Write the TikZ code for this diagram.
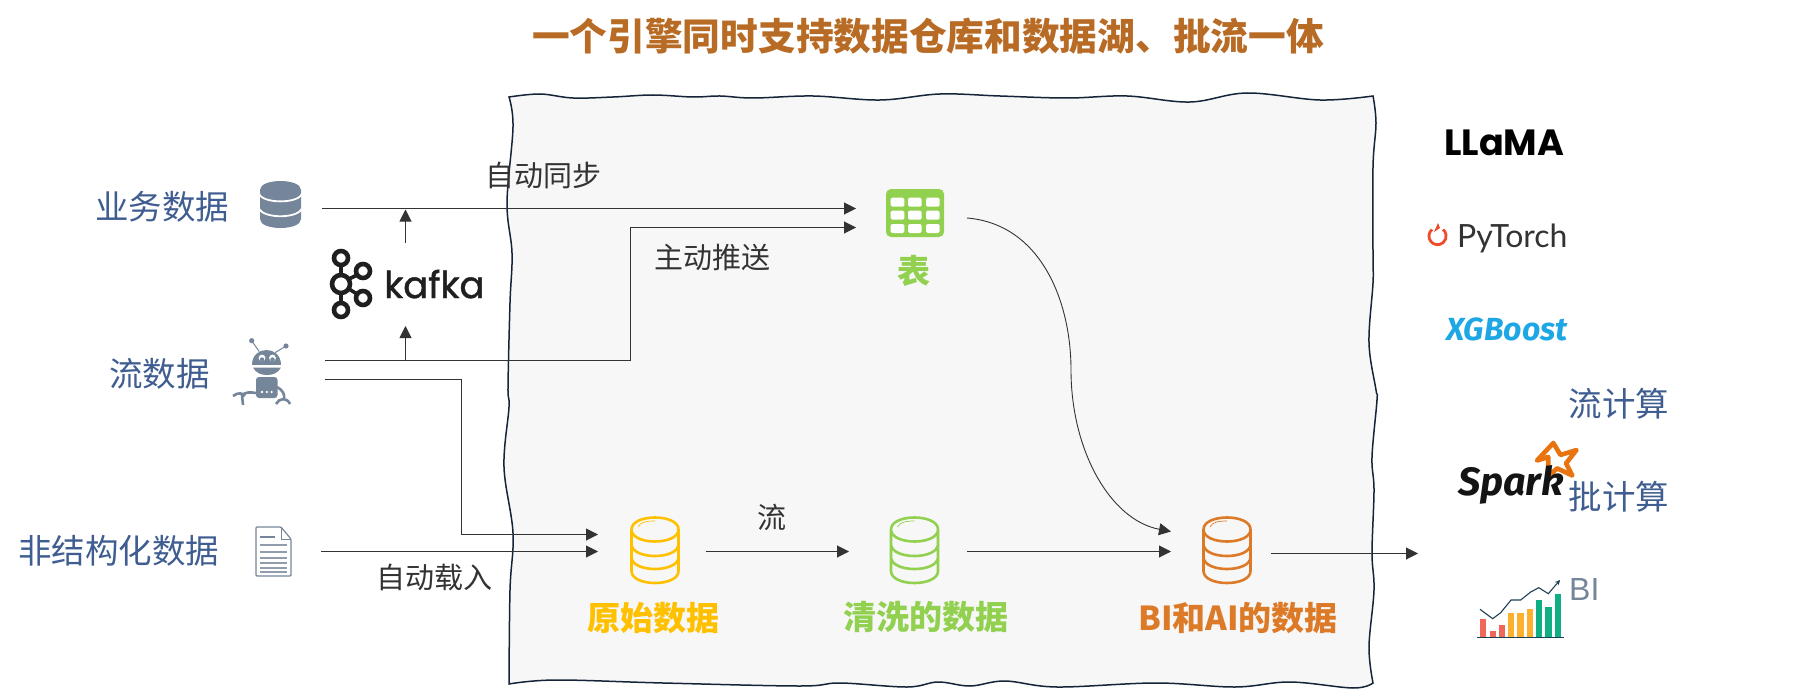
\documentclass[tikz,border=0pt]{standalone}
\usepackage{fontspec}
\setmainfont{Noto Sans CJK SC}
\newfontfamily\logofont{Poppins}
\newfontfamily\kafkafont[FakeBold=1.3]{Poppins}
\newfontfamily\fira{Fira Sans}
\newfontfamily\lato{Lato}
\newfontfamily\arialish{Liberation Sans}
\usetikzlibrary{arrows.meta,positioning}
\definecolor{labelblue}{HTML}{3F5D90}
\definecolor{icongrey}{HTML}{75859A}
\definecolor{titlebrown}{HTML}{B86B25}
\definecolor{rawyellow}{HTML}{FFC000}
\definecolor{cleangreen}{HTML}{92D050}
\definecolor{bihue}{HTML}{DD7A27}
\definecolor{linkdark}{HTML}{333333}
\definecolor{sketchnavy}{HTML}{16243A}
\definecolor{lakefill}{HTML}{F7F7F7}
\definecolor{torchred}{HTML}{EE4C2C}
\definecolor{xgblue}{HTML}{1EA7E5}
\definecolor{sparkorange}{HTML}{E8730F}
\definecolor{chartink}{HTML}{1F4054}
\tikzset{
    %Define standard arrow tip
    >={Triangle[length=12pt,width=12pt]},
    %Define style for invisible anchor boxes
    port/.style={
           rectangle,
           inner sep=0pt,
           outer sep=0pt},
    %Define styles for texts
    bluelabel/.style={
           inner sep=0pt,
           text=labelblue,
           font=\fontsize{33.5}{36}\selectfont},
    linklabel/.style={
           inner sep=0pt,
           text=linkdark,
           font=\fontsize{29}{32}\selectfont},
    stagelabel/.style={
           inner sep=0pt,
           font=\fontsize{33}{36}\selectfont\bfseries},
    %Define arrow style
    link/.style={
           ->,
           draw=linkdark,
           line width=1pt},
    %Cylinder drawn as outline
    dbstack/.pic={
           \draw[line width=2.6pt,pic actions]
             (-23.5,-20.5) .. controls (-23.5,-36.5) and (23.5,-36.5) .. (23.5,-20.5)
             .. controls (23.5,-4.5) and (-23.5,-4.5) .. (-23.5,-20.5)
             -- (-23.5,21) .. controls (-23.5,37) and (23.5,37) .. (23.5,21) -- (23.5,-20.5)
             (-23.5,-6) .. controls (-23.5,10) and (23.5,10) .. (23.5,-6)
             (-23.5,7) .. controls (-23.5,23) and (23.5,23) .. (23.5,7);
           \draw[line width=.7pt,pic actions] (-17,-23) .. controls (-15,-28) and (-8,-29) .. (0,-29);
           }
}
\begin{document}
\begin{tikzpicture}[x=1pt,y=-1pt]
\useasboundingbox (0,0) rectangle (1812,690);
%Sketchy box
\draw[fill=lakefill,draw=sketchnavy,line width=1.5pt]
  plot[smooth,tension=.6] coordinates {(509,97)(540,94)(573,98)(613,97)(653,95)(693,97)(720,96)(753,98)(813,96)(880,100)(940,94)(1000,96)(1067,98)(1127,96)(1190,102)(1247,93)(1320,100)(1373,96)}
  -- plot[smooth,tension=.6] coordinates {(1373,96)(1376,123)(1373,167)(1373,257)(1373,283)(1369,343)(1376,390)(1377,400)(1372,457)(1374,490)(1372,553)(1374,590)(1369,647)(1373,683)}
  -- plot[smooth,tension=.6] coordinates {(1373,683)(1353,688)(1290,682)(1235,687)(1156,683)(1057,687)(1005,681)(970,686)(938,682)(907,687)(840,683)(800,686)(663,683)(556,680)(509,684)}
  -- plot[smooth,tension=.6] coordinates {(509,684)(510,590)(513,533)(504,467)(509,407)(508,387)(510,303)(512,253)(507,203)(513,127)(509,97)}
  -- cycle;

%Title
\node[inner sep=0pt,text=titlebrown,font=\fontsize{37.7}{42}\selectfont\bfseries] (title) at (928,36) {一个引擎同时支持数据仓库和数据湖、批流一体};

%Sources
\node[bluelabel] (bizlabel) at (162,207) {业务数据};
\node[bluelabel] (streamlabel) at (159.5,373.5) {流数据};
\node[bluelabel] (filelabel) at (118.5,551) {非结构化数据};

%Anchor boxes for the connectors
\node[port,minimum width=84pt,minimum height=0pt] (biz) at (280,208.5) {};
\node[port,minimum width=118pt,minimum height=19pt] (robot) at (266,370) {};
\node[port,minimum width=70pt,minimum height=0pt] (file) at (286,551.5) {};
\node[port,minimum width=160pt,minimum height=83pt] (kafka) at (405.5,284.5) {};
\node[port,minimum width=111pt,minimum height=19pt] (tbl) at (911.5,218) {};
\node[port,minimum width=107.6pt,minimum height=17pt] (raw) at (651.8,543) {};
\node[port,minimum width=118pt,minimum height=0pt] (clean) at (908,551.5) {};
\node[port,minimum width=100pt,minimum height=22pt] (serve) at (1221,542.5) {};
\coordinate (engines) at (1418,553.5);

%Connectors
\draw[link] (biz.east) -- (biz.east -| tbl.west);
\draw[link] (robot.north east) -| (630.5,227.5) -- (tbl.south west);
\draw[link] (robot.south east) -| (461.5,534.5) -- (raw.north west);
\draw[link] (file.east) -- (file.east -| raw.west);
\draw[link] (kafka.south |- robot.north) -- (kafka.south);
\draw[link] (kafka.north) -- ([yshift=-1pt]kafka.north |- biz.east);
\draw[link] (raw.south east) -- (raw.south east -| clean.west);
\draw[link] (clean.east) -- (clean.east -| serve.west);
\draw[link,line width=.9pt] (tbl.east) .. controls (1040,224) and (1071,300) .. (1071,370)
  .. controls (1071,450) and (1110,520) .. (serve.north west);
\draw[link] (serve.south east) -- (engines);

%Connector labels
\node[linklabel] (synclabel) at (543.5,175) {自动同步};
\node[linklabel] (pushlabel) at (712,257) {主动推送};
\node[linklabel] (loadlabel) at (434,577) {自动载入};
\node[linklabel] (flowlabel) at (772,517) {流};

%Stage labels
\node[stagelabel,text=cleangreen] (tbllabel) at (914,271) {表};
\node[stagelabel,text=rawyellow] (rawlabel) at (653,618) {原始数据};
\node[stagelabel,text=cleangreen] (cleanlabel) at (926,617) {清洗的数据};
\node[stagelabel,text=bihue] (bilabel) at (1238,618) {BI和AI的数据};

%Cylinders
\pic[draw=rawyellow] at (655,550) {dbstack};
\pic[draw=cleangreen] at (914.5,550) {dbstack};
\pic[draw=bihue] at (1227,550) {dbstack};

%Database icon
\fill[icongrey] (260,190) .. controls (260,178) and (301,178) .. (301,190) -- (301,219)
  .. controls (301,231) and (260,231) .. (260,219) -- cycle;
\draw[white,line width=1.8pt] (259,193.5) .. controls (262,204) and (299,204) .. (302,193.5)
  (259,208) .. controls (262,219) and (299,219) .. (302,208);

%Robot icon
\begin{scope}[icongrey]
\draw[line width=1pt] (251.7,340.7) -- (259.3,351.7) (286,346) -- (275,352.7);
\fill (251.7,340.7) circle (2.6pt) (286,346) circle (2.6pt);
\fill (252,365) .. controls (252,345) and (281,345) .. (281,365) -- cycle;
\fill (253,367.5) -- (281,367.5) .. controls (278,373) and (273,375) .. (267,375) .. controls (261,375) and (256,373) .. (253,367.5) -- cycle;
\fill[white] (262,358) circle (3.4pt) (272.5,358) circle (3.4pt);
\fill (262,359.5) circle (2.2pt) (272.5,359.5) circle (2.2pt);
\fill[rounded corners=3pt] (256,377) rectangle (277.5,398);
\fill[white] (262,392) circle (1.3pt) (266.8,392) circle (1.3pt) (271.6,392) circle (1.3pt);
\draw[line width=2.6pt] (256,393) .. controls (250,392) and (246,392) .. (242,395)
  (233,396) .. controls (238,392) and (243,393) .. (245,396) (242,395) -- (243,405)
  (277,387) .. controls (283,390) and (285,395) .. (284,399)
  (276,404) .. controls (279,398) and (287,397) .. (290,404);
\end{scope}

%Document icon
\draw[fill=white,draw=icongrey,line width=1.2pt,rounded corners=1pt] (256,527) -- (281,527) -- (291,539) -- (291,576) -- (256,576) -- cycle;
\draw[icongrey,line width=1pt] (281,527) -- (281,539) -- (291,539);
\draw[icongrey,line width=1.3pt] (260,537) -- (275,537);
\foreach \ly in {545,552,558,563,568,572}
  \draw[icongrey!80,line width=1.2pt] (260,\ly) -- (287,\ly);

%Table icon
\fill[cleangreen,rounded corners=5pt] (886,189) rectangle (944,237);
\foreach \cx in {890.7,908,926}
  \foreach \cy in {197.7,210.7,224}
    \fill[white,rounded corners=1.5pt] (\cx,\cy) rectangle ++(13.6,9);

%Kafka logo
\begin{scope}[draw=black!88]
\draw[line width=4.6pt] (341,258) circle (7pt) (341,310) circle (7pt) (363,271) circle (7pt) (363,298) circle (7pt) (341,284) circle (9pt);
\draw[line width=3.6pt] (341,265) -- (341,275) (341,293) -- (341,303) (349,279) -- (357,275) (349,289) -- (357,294);
\end{scope}
\node[inner sep=0pt,anchor=base west,text=black!88,font=\fontsize{37}{40}\selectfont\kafkafont] (kafkatext) at (384,298) {kafka};

%Right column
\node[inner sep=0pt,anchor=base west,text=black,font=\fontsize{36.5}{40}\selectfont\logofont\bfseries] (llama) at (1444,156) {LLaMA};
\draw[torchred,line width=2.8pt] (1432,229.5) arc[start angle=130,delta angle=280,radius=8.6pt];
\fill[torchred] (1438,223) -- (1440,228) -- (1434,232) -- cycle (1443.5,230.5) circle (1.2pt);
\node[inner sep=0pt,anchor=base west,text=linkdark,font=\fontsize{32}{36}\selectfont\lato] (pytorch) at (1457,247) {PyTorch};
\node[inner sep=0pt,anchor=base west,text=xgblue,font=\fontsize{32}{38}\selectfont\fira\bfseries\itshape] (xgboost) at (1446,340) {XGBoost};
\node[bluelabel] (streamcalc) at (1619,404) {流计算};
%Spark star
\draw[sparkorange,line width=4.6pt,line join=round] (1553.3,443) -- (1560.5,455) -- (1576.5,450) -- (1566,463.3) -- (1572.3,475.5) -- (1557,468.3) -- (1548,477) -- (1548.3,457) -- (1537,460.5) -- cycle;
\node[inner sep=0pt,anchor=base west,text=black!92,font=\fontsize{39.5}{46}\selectfont\fira\bfseries\itshape] (spark) at (1458,495) {Spark};
\node[bluelabel] (batchcalc) at (1619,496.5) {批计算};

%BI chart
\foreach \bx/\btop/\bcol in {1480/619/F0675A,1490/631/F0675A,1499/625.3/F0675A,1508/612.7/FDB02E,1517.3/612.7/FDB02E,1526.7/608.7/FDB02E,1536/600/0FAE84,1545.3/606.7/0FAE84,1554.7/594/0FAE84}{
  \definecolor{barcol}{HTML}{\bcol}
  \fill[barcol] (\bx,\btop) rectangle ++(6.2,637-\btop);
}
\draw[chartink,line width=1.2pt] (1477,637.3) -- (1564,637.3);
\draw[chartink,line width=1.1pt,-{Stealth[length=5pt,width=5pt]}] (1480,609.3) -- (1492.7,618.7) -- (1500.7,612.7) -- (1511,600) -- (1520.7,600) -- (1530.7,592) -- (1538.7,587.7) -- (1548.3,593.7) -- (1560,580);
\node[inner sep=0pt,anchor=base west,text=icongrey,font=\fontsize{32}{36}\selectfont\arialish] (bitext) at (1569,600) {BI};
\end{tikzpicture}
\end{document}
